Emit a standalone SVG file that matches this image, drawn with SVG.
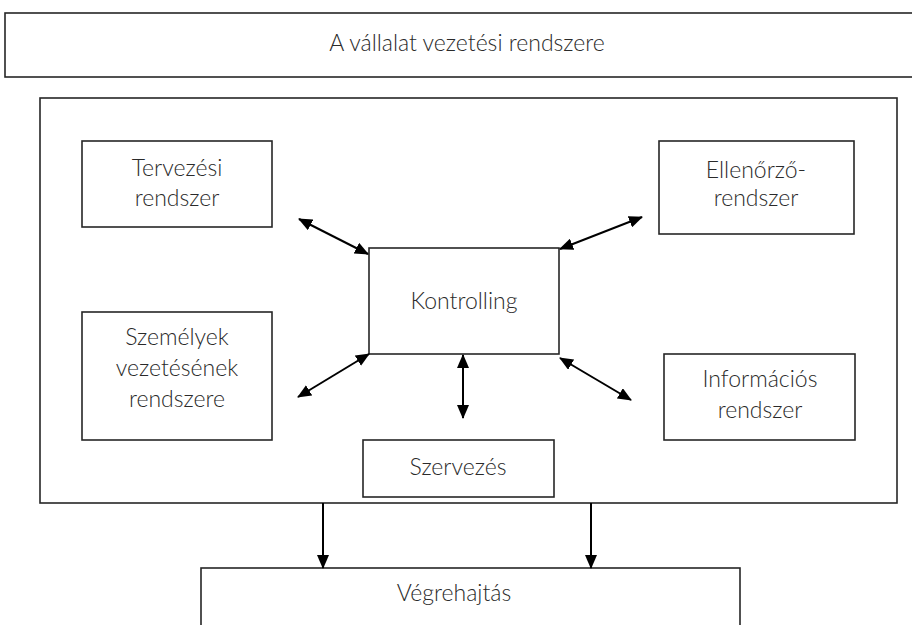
<svg xmlns="http://www.w3.org/2000/svg" width="912" height="625" viewBox="0 0 912 625">
<defs>
<style>
.box{fill:#fff;stroke:#262626;stroke-width:1.6}
.t{font-family:Lato,"Liberation Sans",sans-serif;font-size:23px;font-weight:300;fill:#2a2a2a;text-anchor:middle}
.c{stroke:#000;stroke-width:2;fill:none}
</style>
<marker id="ah" markerUnits="userSpaceOnUse" markerWidth="14" markerHeight="12" viewBox="0 0 14 12" refX="13" refY="6" orient="auto-start-reverse">
<path d="M0,0 L14,6 L0,12 Z" fill="#000"/>
</marker>
</defs>
<rect width="912" height="625" fill="#fff"/>
<g id="vezetesi">
<rect class="box" x="5" y="13" width="910" height="64"/>
<text class="t" x="467" y="51">A vállalat vezetési rendszere</text>
</g>
<g id="keret">
<rect class="box" x="40" y="98" width="857" height="405"/>
</g>
<g id="tervezesi">
<rect class="box" x="82" y="141" width="190" height="86"/>
<text class="t" x="177" y="176">Tervezési</text>
<text class="t" x="177" y="206">rendszer</text>
</g>
<g id="ellenorzo">
<rect class="box" x="659" y="141" width="195" height="93"/>
<text class="t" x="756" y="178">Ellenőrző-</text>
<text class="t" x="756" y="206">rendszer</text>
</g>
<g id="kontrolling">
<rect class="box" x="369" y="248" width="190" height="106"/>
<text class="t" x="464" y="309">Kontrolling</text>
</g>
<g id="szemelyek">
<rect class="box" x="82" y="312" width="190" height="128"/>
<text class="t" x="177" y="345">Személyek</text>
<text class="t" x="177" y="376">vezetésének</text>
<text class="t" x="177" y="407">rendszere</text>
</g>
<g id="informacios">
<rect class="box" x="664" y="354" width="191" height="86"/>
<text class="t" x="760" y="387">Információs</text>
<text class="t" x="760" y="418">rendszer</text>
</g>
<g id="szervezes">
<rect class="box" x="363" y="440" width="191" height="57"/>
<text class="t" x="458" y="475">Szervezés</text>
</g>
<g id="vegrehajtas">
<rect class="box" x="201" y="568" width="539" height="80"/>
<text class="t" x="454" y="601">Végrehajtás</text>
</g>
<g id="connectors">
<line class="c" x1="299" y1="219" x2="368" y2="254" marker-start="url(#ah)" marker-end="url(#ah)"/>
<line class="c" x1="560" y1="249" x2="642" y2="217" marker-start="url(#ah)" marker-end="url(#ah)"/>
<line class="c" x1="298" y1="397" x2="369" y2="354" marker-start="url(#ah)" marker-end="url(#ah)"/>
<line class="c" x1="463" y1="355" x2="463" y2="418" marker-start="url(#ah)" marker-end="url(#ah)"/>
<line class="c" x1="560" y1="358" x2="631" y2="400" marker-start="url(#ah)" marker-end="url(#ah)"/>
<line class="c" x1="323" y1="503" x2="323" y2="568" marker-end="url(#ah)"/>
<line class="c" x1="591" y1="503" x2="591" y2="568" marker-end="url(#ah)"/>
</g>
</svg>
